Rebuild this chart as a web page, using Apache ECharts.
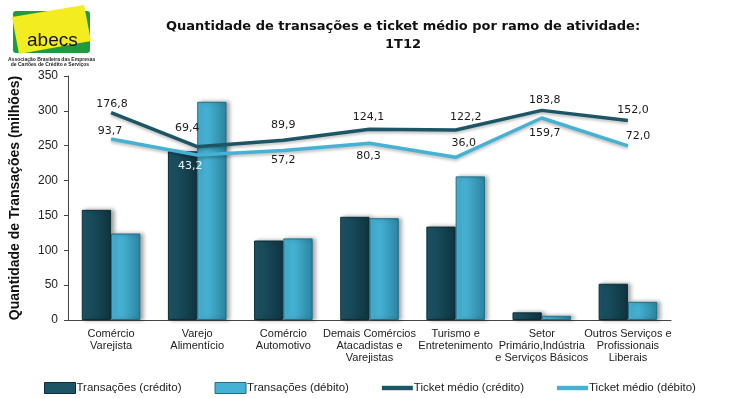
<!DOCTYPE html>
<html>
<head>
<meta charset="utf-8">
<script src="https://cdn.jsdelivr.net/npm/echarts@6/dist/echarts.min.js"></script>
<style>
    html, body { margin: 0; padding: 0; background: #fff; }
    #chart { width: 736px; height: 398px; }
</style>
</head>
<body>
<div id="chart"></div>
<script>
// dados
var ramos = ['Comércio\nVarejista', 'Varejo\nAlimentício', 'Comércio\nAutomotivo',
    'Demais Comércios\nAtacadistas e\nVarejistas', 'Turismo e\nEntretenimento',
    'Setor\nPrimário,Indústria\ne Serviços Básicos', 'Outros Serviços e\nProfissionais\nLiberais'];
var transCredito = [158, 242, 114, 148, 134, 11, 52];
var transDebito = [124, 313, 117, 146, 206, 6, 26];
var ticketCredito = [176.8, 69.4, 89.9, 124.1, 122.2, 183.8, 152.0];
var ticketDebito = [93.7, 43.2, 57.2, 80.3, 36.0, 159.7, 72.0];
var yTicks = [0, 50, 100, 150, 200, 250, 300, 350];

// posicao dos rotulos (centro relativo ao ponto)
var offCredito = [[1, -8], [-10, -19], [0, -15], [-1, -12], [10, -13], [3, -10], [5, -10]];
var offDebito = [[-1, -8], [-7, 11], [0, 10], [-1, 13], [8, -14], [3, 15], [10, -10]];

var corCredito = '#1c5666';
var corDebito = '#45b1d3';

function fmt(v) {
    return v.toFixed(1).replace('.', ',');
}

function lineData(values, offs, light) {
    return values.map(function (v, i) {
        return {
            value: v,
            label: {
                offset: offs[i],
                color: (light && light[i]) ? '#eef8fb' : '#1a1a1a'
            }
        };
    });
}

var chart = echarts.init(document.getElementById('chart'));

var option = {
    backgroundColor: '#fff',
    animation: false,
    title: {
        text: 'Quantidade de transações e ticket médio por ramo de atividade:\n1T12',
        left: 398,
        top: 13,
        textAlign: 'center',
        textStyle: {
            fontFamily: 'DejaVu Sans',
            fontWeight: 'bold',
            fontSize: 13,
            lineHeight: 18,
            color: '#111'
        }
    },
    legend: {
        left: 39,
        top: 377,
        itemGap: 33,
        itemWidth: 31,
        itemHeight: 11,
        textStyle: {
            fontFamily: 'Liberation Sans',
            fontSize: 11.5,
            color: '#222',
            padding: [0, 0, 0, -4]
        },
        data: [
            { name: 'Transações (crédito)', icon: 'rect', itemStyle: { color: corCredito, borderColor: '#0c2e38', borderWidth: 1 } },
            { name: 'Transações (débito)', icon: 'rect', itemStyle: { color: corDebito, borderColor: '#1f6f88', borderWidth: 1 } },
            { name: 'Ticket médio (crédito)', icon: 'path://M0,0 L28,0 L28,4 L0,4 Z', itemStyle: { color: corCredito } },
            { name: 'Ticket médio (débito)', icon: 'path://M0,0 L28,0 L28,4 L0,4 Z', itemStyle: { color: corDebito } }
        ]
    },
    grid: {
        left: 62,
        right: 65,
        top: 76,
        bottom: 78
    },
    xAxis: {
        type: 'category',
        data: ramos,
        axisLine: { lineStyle: { color: '#444', width: 1 } },
        axisTick: { length: 4, lineStyle: { color: '#444' } },
        axisLabel: {
            interval: 0,
            margin: 8,
            fontFamily: 'Liberation Sans',
            fontSize: 11,
            lineHeight: 12,
            color: '#222'
        }
    },
    yAxis: [
        {
            type: 'value',
            min: yTicks[0],
            max: yTicks[yTicks.length - 1],
            interval: 50,
            name: 'Quantidade de Transações (milhões)',
            nameLocation: 'middle',
            nameGap: 46,
            nameTextStyle: {
                fontFamily: 'Liberation Sans',
                fontWeight: 'bold',
                fontSize: 14,
                color: '#111'
            },
            axisLine: { show: true, lineStyle: { color: '#444' } },
            axisTick: { show: true, length: 4, lineStyle: { color: '#444' } },
            splitLine: { show: false },
            axisLabel: {
                margin: 10,
                fontFamily: 'Liberation Sans',
                fontSize: 12,
                color: '#222'
            }
        },
        {
            type: 'value',
            show: false,
            min: -476,
            max: 292,
            splitLine: { show: false }
        }
    ],
    series: [
        {
            name: 'Transações (crédito)',
            type: 'bar',
            data: transCredito,
            barGap: '0%',
            barCategoryGap: '32%',
            itemStyle: {
                color: new echarts.graphic.LinearGradient(0, 0, 1, 0, [
                    { offset: 0, color: '#1d5869' },
                    { offset: 1, color: '#0f3440' }
                ]),
                borderColor: '#0c2e38',
                borderWidth: 1,
                shadowColor: 'rgba(0,0,0,0.35)',
                shadowBlur: 4,
                shadowOffsetX: 3,
                shadowOffsetY: 0
            }
        },
        {
            name: 'Transações (débito)',
            type: 'bar',
            data: transDebito,
            itemStyle: {
                color: new echarts.graphic.LinearGradient(0, 0, 1, 0, [
                    { offset: 0, color: '#4ab6d8' },
                    { offset: 0.4, color: '#44aed0' },
                    { offset: 1, color: '#2b849f' }
                ]),
                borderColor: '#1f6f88',
                borderWidth: 1,
                shadowColor: 'rgba(0,0,0,0.35)',
                shadowBlur: 4,
                shadowOffsetX: 3,
                shadowOffsetY: 0
            }
        },
        {
            name: 'Ticket médio (crédito)',
            type: 'line',
            yAxisIndex: 1,
            data: lineData(ticketCredito, offCredito),
            symbol: 'circle',
            symbolSize: 1,
            itemStyle: { color: 'rgba(0,0,0,0)' },
            lineStyle: {
                color: corCredito,
                width: 3.5,
                shadowColor: 'rgba(0,0,0,0.25)',
                shadowBlur: 3,
                shadowOffsetY: 2
            },
            label: {
                show: true,
                position: 'inside',
                fontFamily: 'DejaVu Sans',
                fontSize: 11,
                formatter: function (p) { return fmt(p.value); }
            }
        },
        {
            name: 'Ticket médio (débito)',
            type: 'line',
            yAxisIndex: 1,
            data: lineData(ticketDebito, offDebito, [false, true, false, false, false, false, false]),
            symbol: 'circle',
            symbolSize: 1,
            itemStyle: { color: 'rgba(0,0,0,0)' },
            lineStyle: {
                color: corDebito,
                width: 3.5,
                shadowColor: 'rgba(0,0,0,0.25)',
                shadowBlur: 3,
                shadowOffsetY: 2
            },
            label: {
                show: true,
                position: 'inside',
                fontFamily: 'DejaVu Sans',
                fontSize: 11,
                formatter: function (p) { return fmt(p.value); }
            }
        }
    ],
    // logo abecs
    graphic: [
        {
            type: 'rect',
            shape: { x: 13, y: 11, width: 77, height: 42, r: 3 },
            style: { fill: '#1f9a3e' }
        },
        {
            type: 'polygon',
            shape: { points: [[12, 17], [84, 5], [91, 41], [19, 54]] },
            style: { fill: '#f3ec1e' }
        },
        {
            type: 'text',
            left: 27,
            top: 31,
            style: {
                text: 'abecs',
                font: '19px "Liberation Sans"',
                fill: '#111'
            }
        },
        {
            type: 'text',
            left: 8,
            top: 57,
            style: {
                text: 'Associação Brasileira das Empresas\n  de Cartões de Crédito e Serviços',
                font: 'bold 5px "Liberation Sans"',
                lineHeight: 5,
                fill: '#222'
            }
        }
    ]
};

chart.setOption(option);
</script>
</body>
</html>
